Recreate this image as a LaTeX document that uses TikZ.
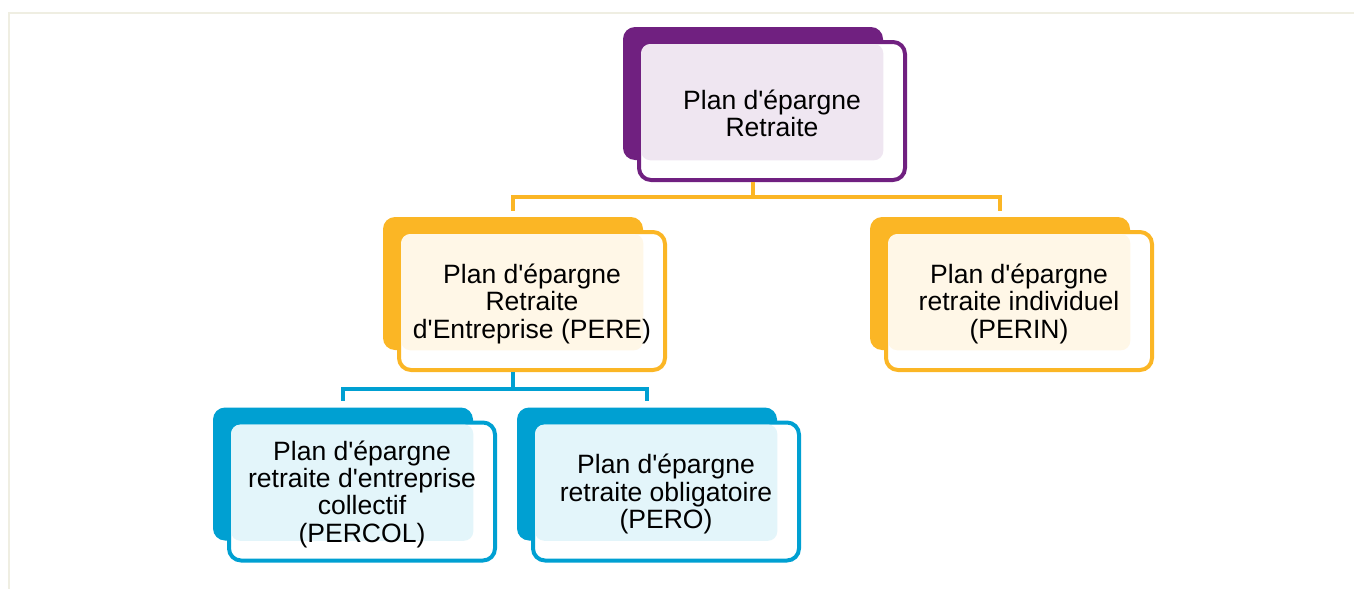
\documentclass[tikz,border=0pt]{standalone}
\usepackage{fontspec}
\setmainfont{Liberation Sans}
\usetikzlibrary{positioning}

\definecolor{plum}{RGB}{112,32,128}
\definecolor{gold}{RGB}{251,182,37}
\definecolor{sky}{RGB}{0,160,210}
\definecolor{paper}{RGB}{239,238,226}

\newcommand{\ap}{\textquotesingle}

\begin{document}
\begin{tikzpicture}[
    x=0.75pt, y=-0.75pt, % one unit = one pixel, y pointing down
    back/.style={fill=#1, rounded corners=9pt, minimum width=195pt, minimum height=99.75pt, inner sep=0pt}, % solid card behind
    front/.style={draw=#1, fill=white, line width=3pt, rounded corners=9pt, minimum width=199.5pt, minimum height=103.5pt, inner sep=0pt}, % outlined card
    tint/.style={fill=#1!11, rounded corners=7pt},
    txt/.style={align=center, font=\fontsize{19.9pt}{20.5pt}\selectfont, inner sep=0pt, yshift=-2pt},
    link/.style={draw=#1, line width=3pt}
]

\useasboundingbox (0,0) rectangle (1354,589);

% Frame of the page
\draw[paper, line width=1.5pt] (9,589) -- (9,13) -- (1354,13);

% Bus points for the connectors
\coordinate (ret-bus) at (753,197);
\coordinate (pere-bus) at (513,389);

% Top card
\node[back=plum] (ret-b) at (753,93.5) {};
\node[front=plum] (ret) at ([shift={(19,17.5)}]ret-b.center) {};
\fill[tint=plum] ([shift={(3pt,-3pt)}]ret.north west) rectangle (ret-b.south east);
\node[txt] (ret-t) at (ret) {Plan d\ap épargne\\Retraite};

% Second level
\node[back=gold] (pere-b) at (513,283.5) {};
\node[front=gold] (pere) at ([shift={(19,17.5)}]pere-b.center) {};
\fill[tint=gold] ([shift={(3pt,-3pt)}]pere.north west) rectangle (pere-b.south east);
\node[txt] (pere-t) at (pere) {Plan d\ap épargne\\Retraite\\d\ap Entreprise (PERE)};

\node[back=gold] (perin-b) at (1000,283.5) {};
\node[front=gold] (perin) at ([shift={(19,17.5)}]perin-b.center) {};
\fill[tint=gold] ([shift={(3pt,-3pt)}]perin.north west) rectangle (perin-b.south east);
\node[txt] (perin-t) at (perin) {Plan d\ap épargne\\retraite individuel\\(PERIN)};

% Third level
\node[back=sky] (percol-b) at (343,474) {};
\node[front=sky] (percol) at ([shift={(19,17.5)}]percol-b.center) {};
\fill[tint=sky] ([shift={(3pt,-3pt)}]percol.north west) rectangle (percol-b.south east);
\node[txt] (percol-t) at (percol) {Plan d\ap épargne\\retraite d\ap entreprise\\collectif\\(PERCOL)};

\node[back=sky] (pero-b) at (647,474) {};
\node[front=sky] (pero) at ([shift={(19,17.5)}]pero-b.center) {};
\fill[tint=sky] ([shift={(3pt,-3pt)}]pero.north west) rectangle (pero-b.south east);
\node[txt] (pero-t) at (pero) {Plan d\ap épargne\\retraite obligatoire\\(PERO)};

% Connectors
\draw[link=gold] (ret-b.south |- ret.south) -- (ret-bus) -| ([yshift=4.5pt]pere-b.north);
\draw[link=gold] (ret-bus) -| ([yshift=4.5pt]perin-b.north);
\draw[link=sky] (pere-b.south |- pere.south) -- (pere-bus) -| ([yshift=4.5pt]percol-b.north);
\draw[link=sky] (pere-bus) -| ([yshift=4.5pt]pero-b.north);

\end{tikzpicture}
\end{document}
